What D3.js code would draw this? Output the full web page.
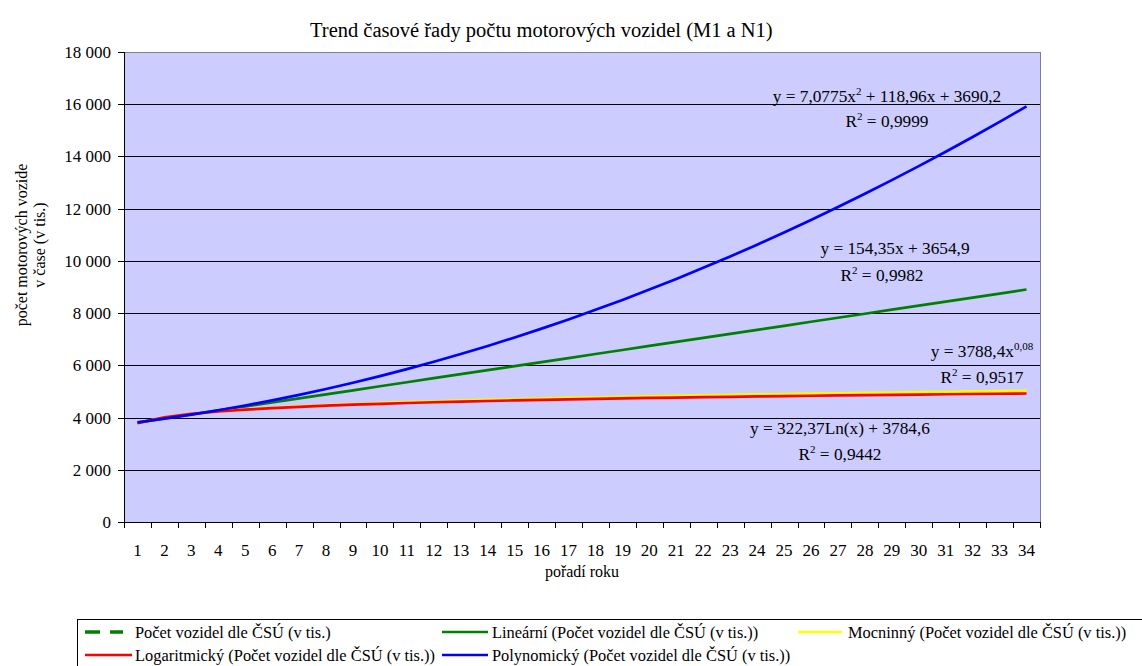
<!DOCTYPE html>
<html>
<head>
<meta charset="utf-8">
<script src="https://cdn.jsdelivr.net/npm/d3@7"></script>
<style>
  body { margin: 0; background: #fff; }
</style>
</head>
<body>
<div id="chart"></div>
<script>
// Trend of number of motor vehicles (M1 and N1) - Excel-style trendlines

const years = d3.range(1, 35); // pořadí roku 1..34

// Values (thousands)
const actualValues = []; // data series itself is hidden behind trendlines
const linearValues = [3809, 3964, 4118, 4272, 4427, 4581, 4735, 4890, 5044, 5198, 5353, 5507,
  5661, 5816, 5970, 6125, 6279, 6433, 6588, 6742, 6896, 7051, 7205, 7359, 7514, 7668, 7822,
  7977, 8131, 8285, 8440, 8594, 8748, 8903];
const powerValues = [3788, 4004, 4136, 4233, 4309, 4372, 4427, 4474, 4517, 4555, 4590, 4622,
  4651, 4679, 4705, 4729, 4752, 4774, 4795, 4814, 4833, 4851, 4869, 4885, 4901, 4917, 4931,
  4946, 4960, 4973, 4986, 4999, 5011, 5023];
const logValues = [3785, 4008, 4139, 4232, 4303, 4362, 4412, 4455, 4493, 4527, 4558, 4586,
  4611, 4635, 4658, 4678, 4698, 4716, 4734, 4750, 4766, 4781, 4795, 4809, 4822, 4835, 4847,
  4859, 4870, 4881, 4892, 4902, 4912, 4921];
const polyValues = [3816, 3956, 4111, 4279, 4462, 4659, 4870, 5095, 5334, 5588, 5855, 6137,
  6433, 6743, 7067, 7405, 7758, 8125, 8505, 8900, 9310, 9733, 10170, 10622, 11088, 11568,
  12062, 12570, 13092, 13629, 14179, 14744, 15323, 15916];

const yTicks = [0, 2000, 4000, 6000, 8000, 10000, 12000, 14000, 16000, 18000];

const seriesNames = [
  "Počet vozidel dle ČSÚ (v tis.)",
  "Lineární (Počet vozidel dle ČSÚ (v tis.))",
  "Mocninný (Počet vozidel dle ČSÚ (v tis.))",
  "Logaritmický (Počet vozidel dle ČSÚ (v tis.))",
  "Polynomický (Počet vozidel dle ČSÚ (v tis.))"
];
const seriesColors = ["#008000", "#008000", "#ffff00", "#ff0000", "#0000ff"];
const seriesValues = [actualValues, linearValues, powerValues, logValues, polyValues];

const W = 1142, H = 666;
const plot = { left: 124, right: 1040, top: 52, bottom: 522 };
const serif = '"Liberation Serif", "Times New Roman", serif';

const svg = d3.select("#chart").append("svg")
  .attr("width", W)
  .attr("height", H)
  .style("display", "block")
  .style("font-family", serif);

function txt(sel) {
  return sel.append("text").style("font-family", serif).attr("fill", "#000");
}

const x = d3.scaleBand()
  .domain(years)
  .range([plot.left, plot.right])
  .padding(0);

const y = d3.scaleLinear()
  .domain([0, 18000])
  .range([plot.bottom, plot.top]);

const fmt = d3.formatLocale({ decimal: ",", thousands: " ", grouping: [3], currency: ["", ""] }).format(",d");

// plot area background
svg.append("rect")
  .attr("x", plot.left + 0.5)
  .attr("y", plot.top + 0.5)
  .attr("width", plot.right - plot.left)
  .attr("height", plot.bottom - plot.top)
  .attr("fill", "#ccccff")
  .attr("stroke", "#808080")
  .attr("stroke-width", 1);

// gridlines
svg.append("g")
  .selectAll("line")
  .data(yTicks.filter(d => d > 0 && d < 18000))
  .join("line")
  .attr("x1", plot.left)
  .attr("x2", plot.right)
  .attr("y1", d => Math.round(y(d)) + 0.5)
  .attr("y2", d => Math.round(y(d)) + 0.5)
  .attr("stroke", "#000")
  .attr("stroke-width", 1);

// y axis
const yAxis = svg.append("g");
yAxis.append("line")
  .attr("x1", plot.left + 0.5).attr("x2", plot.left + 0.5)
  .attr("y1", plot.top).attr("y2", plot.bottom)
  .attr("stroke", "#000");
yAxis.selectAll(".tick")
  .data(yTicks)
  .join("line")
  .attr("x1", plot.left - 6).attr("x2", plot.left)
  .attr("y1", d => Math.round(y(d)) + 0.5)
  .attr("y2", d => Math.round(y(d)) + 0.5)
  .attr("stroke", "#000");
yAxis.selectAll("text")
  .data(yTicks)
  .join("text")
  .style("font-family", serif)
  .attr("x", plot.left - 13)
  .attr("y", d => y(d))
  .attr("dy", "0.35em")
  .attr("text-anchor", "end")
  .attr("font-size", "17px")
  .text(d => fmt(d));

// x axis
const xAxis = svg.append("g");
xAxis.append("line")
  .attr("x1", plot.left).attr("x2", plot.right)
  .attr("y1", plot.bottom + 0.5).attr("y2", plot.bottom + 0.5)
  .attr("stroke", "#000");
xAxis.selectAll("line.tk")
  .data(years.map(d => x(d)).concat([plot.right]))
  .join("line")
  .attr("class", "tk")
  .attr("x1", d => Math.round(d) + 0.5).attr("x2", d => Math.round(d) + 0.5)
  .attr("y1", plot.bottom).attr("y2", plot.bottom + 6)
  .attr("stroke", "#000");
xAxis.selectAll("text")
  .data(years)
  .join("text")
  .style("font-family", serif)
  .attr("x", d => x(d) + x.bandwidth() / 2)
  .attr("y", plot.bottom + 34)
  .attr("text-anchor", "middle")
  .attr("font-size", "17px")
  .text(d => d);

// series
const line = d3.line()
  .x((d, i) => x(years[i]) + x.bandwidth() / 2)
  .y(d => y(d));

svg.append("g")
  .selectAll("path")
  .data(seriesValues.map((v, i) => ({ v, i })).filter(s => s.v.length))
  .join("path")
  .attr("d", s => line(s.v))
  .attr("fill", "none")
  .attr("stroke", s => seriesColors[s.i])
  .attr("stroke-width", 2.7)
  .attr("stroke-dasharray", s => s.i === 0 ? "10,6" : null);

// trendline equations
function eq(xc, yb, parts) {
  const t = txt(svg)
    .attr("x", xc)
    .attr("y", yb)
    .attr("text-anchor", "middle")
    .attr("font-size", "17.3px");
  let shift = 0;
  parts.forEach(p => {
    if (typeof p === "object") {
      t.append("tspan").attr("dy", -7).attr("font-size", "11px").text(p.sup);
      shift = 7;
    } else {
      t.append("tspan").attr("dy", shift).text(p);
      shift = 0;
    }
  });
}
eq(887, 102, ["y = 7,0775x", { sup: "2" }, " + 118,96x + 3690,2"]);
eq(887, 127, ["R", { sup: "2" }, " = 0,9999"]);
eq(895, 254, ["y = 154,35x + 3654,9"]);
eq(882, 281, ["R", { sup: "2" }, " = 0,9982"]);
eq(982, 357, ["y = 3788,4x", { sup: "0,08" }]);
eq(982, 383, ["R", { sup: "2" }, " = 0,9517"]);
eq(840, 434, ["y = 322,37Ln(x) + 3784,6"]);
eq(840, 460, ["R", { sup: "2" }, " = 0,9442"]);

// title
txt(svg)
  .attr("x", 310)
  .attr("y", 37)
  .attr("font-size", "20.5px")
  .text("Trend časové řady počtu motorových vozidel (M1 a N1)");

// axis titles
txt(svg)
  .attr("transform", "translate(27,245) rotate(-90)")
  .attr("text-anchor", "middle")
  .attr("font-size", "16px")
  .text("počet motorových vozide");
txt(svg)
  .attr("transform", "translate(45,245) rotate(-90)")
  .attr("text-anchor", "middle")
  .attr("font-size", "16px")
  .text("v čase (v tis.)");

txt(svg)
  .attr("x", 582)
  .attr("y", 577)
  .attr("text-anchor", "middle")
  .attr("font-size", "16px")
  .text("pořadí roku");

// legend
const legend = svg.append("g");
legend.append("rect")
  .attr("x", 77.5).attr("y", 619.5)
  .attr("width", 1100).attr("height", 80)
  .attr("fill", "#fff")
  .attr("stroke", "#000");

const legPos = [
  { x: 85, y: 632, w: 38 }, { x: 442, y: 632, w: 46 }, { x: 798, y: 632, w: 44 },
  { x: 85, y: 655, w: 47 }, { x: 442, y: 655, w: 46 }
];
const legItem = legend.selectAll("g.item")
  .data(seriesNames.map((n, i) => ({ n, i })))
  .join("g")
  .attr("class", "item")
  .attr("transform", d => `translate(${legPos[d.i].x},${legPos[d.i].y})`);
legItem.append("line")
  .attr("x1", 0).attr("x2", d => legPos[d.i].w)
  .attr("y1", 0).attr("y2", 0)
  .attr("stroke", d => seriesColors[d.i])
  .attr("stroke-width", d => d.i === 0 ? 3.5 : 2.5)
  .attr("stroke-dasharray", d => d.i === 0 ? "15,10" : null);
legItem.append("text")
  .style("font-family", serif)
  .attr("x", 50)
  .attr("y", 0)
  .attr("dy", "0.35em")
  .attr("font-size", "16.4px")
  .text(d => d.n);
</script>
</body>
</html>
